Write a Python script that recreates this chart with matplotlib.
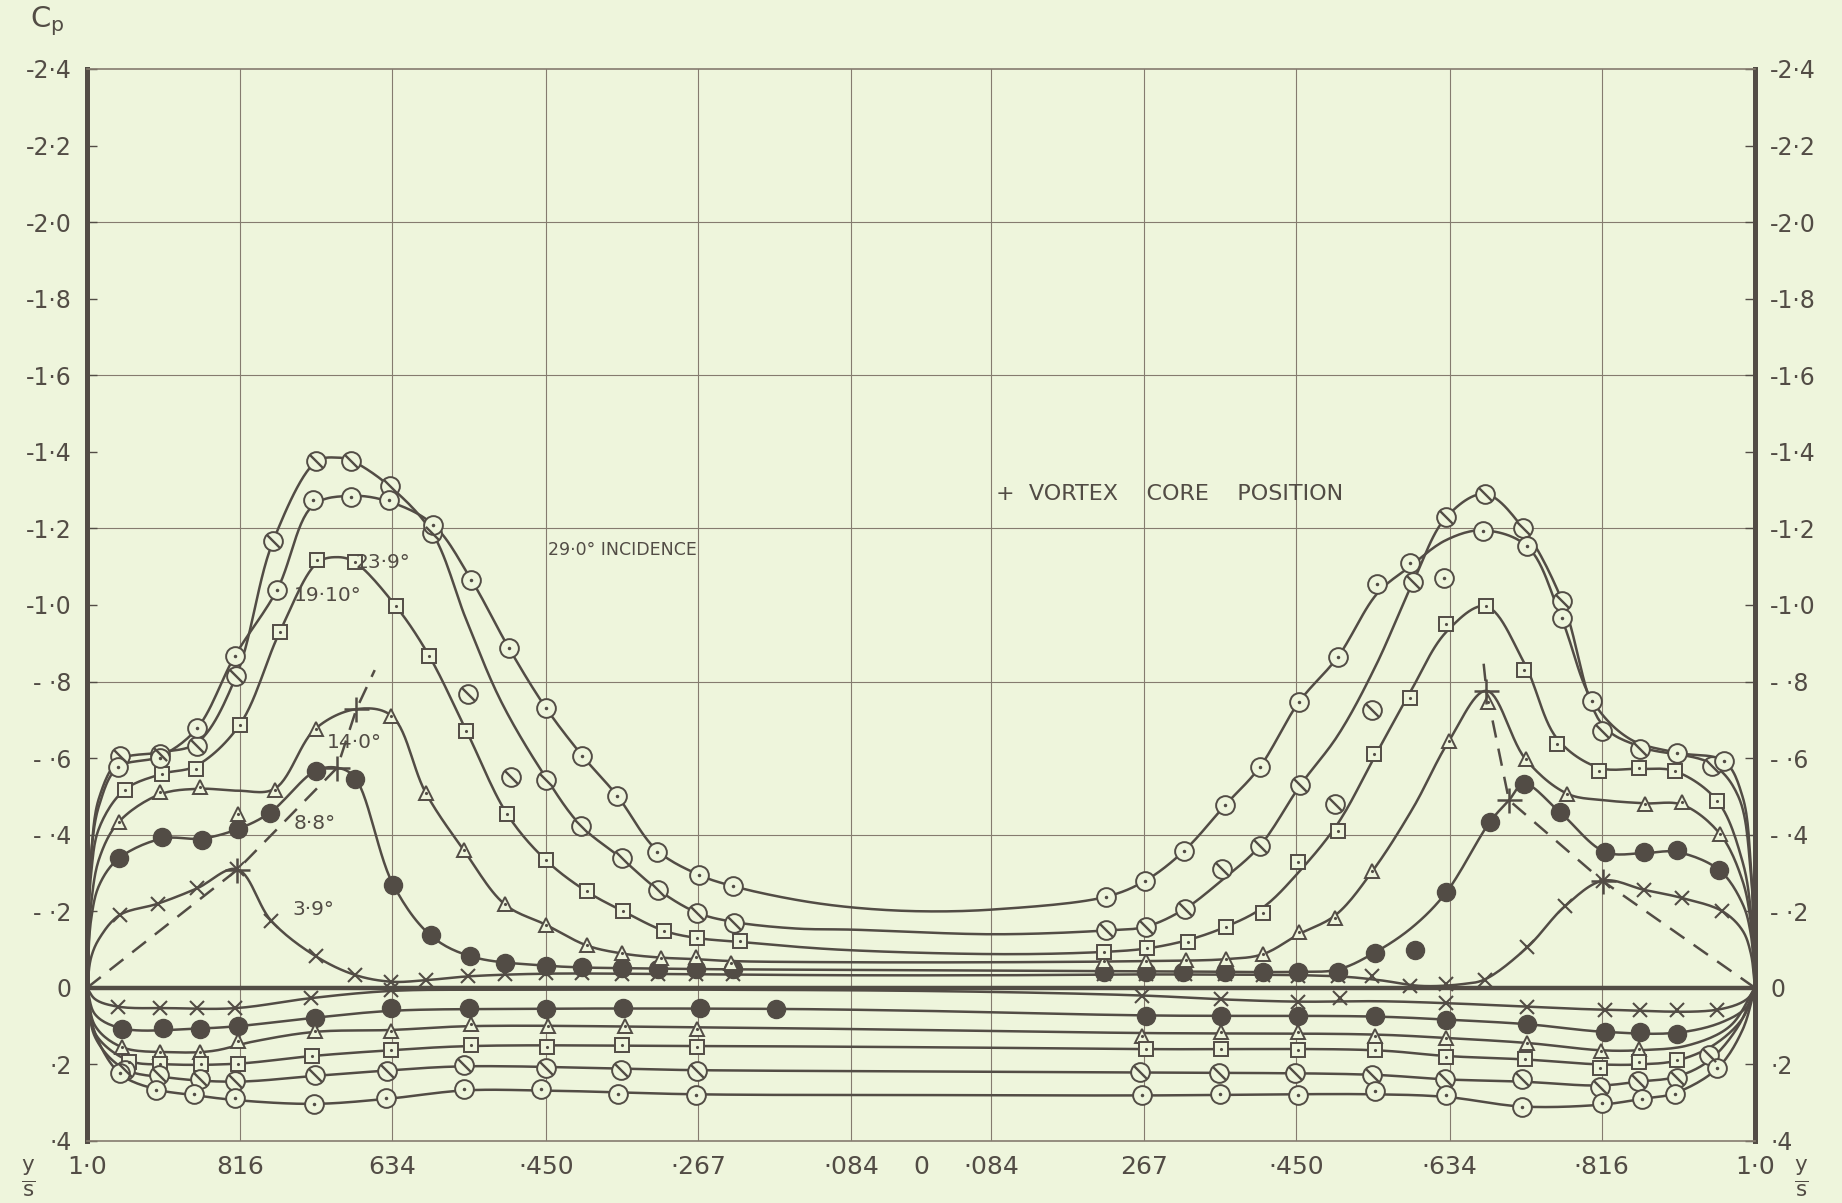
import numpy as np
import matplotlib
matplotlib.use("Agg")
import matplotlib.pyplot as plt
from matplotlib.path import Path

# ---- data (y/s: left half negative, Cp) ----
# upper surface, markers
up39_mx = [-0.961, -0.915, -0.868, -0.820, -0.779, -0.726, -0.679, -0.635, -0.594, -0.543, -0.499, -0.450, -0.406, -0.359, -0.315, -0.270, -0.226,
           0.220, 0.270, 0.316, 0.364, 0.410, 0.452, 0.500, 0.541, 0.586, 0.630, 0.676, 0.727, 0.772, 0.818, 0.867, 0.912, 0.961]
up39_mcp = [-0.19, -0.22, -0.26, -0.31, -0.175, -0.083, -0.034, -0.016, -0.020, -0.030, -0.035, -0.038, -0.038, -0.036, -0.036, -0.035, -0.035,
            -0.035, -0.035, -0.035, -0.035, -0.033, -0.030, -0.030, -0.030, -0.005, -0.010, -0.020, -0.106, -0.213, -0.280, -0.256, -0.235, -0.200]
up39_lx = [-1.0, -0.995, -0.985, -0.961, -0.915, -0.868, -0.820, -0.779, -0.726, -0.679, -0.635, -0.594, -0.543, -0.45, -0.3, -0.1,
           0.1, 0.3, 0.5, 0.55, 0.6, 0.65, 0.676, 0.727, 0.772, 0.818, 0.867, 0.912, 0.961, 0.985, 0.995, 1.0]
up39_lcp = [0.0, -0.08, -0.13, -0.19, -0.22, -0.26, -0.31, -0.175, -0.083, -0.034, -0.016, -0.020, -0.030, -0.037, -0.036, -0.033,
            -0.033, -0.035, -0.030, -0.020, -0.005, -0.010, -0.022, -0.106, -0.213, -0.280, -0.256, -0.235, -0.200, -0.15, -0.09, 0.0]

up88_mx = [-0.962, -0.910, -0.862, -0.819, -0.781, -0.726, -0.679, -0.633, -0.588, -0.541, -0.499, -0.450, -0.406, -0.359, -0.315, -0.270, -0.226,
           0.220, 0.270, 0.314, 0.364, 0.410, 0.452, 0.500, 0.544, 0.592, 0.630, 0.682, 0.723, 0.766, 0.820, 0.867, 0.906, 0.957]
up88_mcp = [-0.338, -0.394, -0.387, -0.415, -0.457, -0.567, -0.546, -0.269, -0.137, -0.083, -0.065, -0.058, -0.055, -0.052, -0.050, -0.050, -0.050,
            -0.042, -0.042, -0.042, -0.042, -0.042, -0.042, -0.042, -0.092, -0.100, -0.250, -0.433, -0.533, -0.459, -0.355, -0.355, -0.360, -0.308]
up88_lx = [-1.0, -0.995, -0.985, -0.962, -0.910, -0.862, -0.819, -0.781, -0.726, -0.700, -0.679, -0.633, -0.588, -0.541, -0.45, -0.3, -0.1,
           0.1, 0.3, 0.45, 0.50, 0.544, 0.59, 0.630, 0.682, 0.705, 0.723, 0.766, 0.820, 0.867, 0.906, 0.957, 0.985, 0.995, 1.0]
up88_lcp = [0.0, -0.18, -0.27, -0.338, -0.390, -0.390, -0.415, -0.457, -0.567, -0.575, -0.550, -0.270, -0.137, -0.083, -0.058, -0.050, -0.047,
            -0.045, -0.043, -0.042, -0.048, -0.092, -0.160, -0.250, -0.433, -0.490, -0.533, -0.459, -0.355, -0.352, -0.355, -0.308, -0.22, -0.14, 0.0]

up140_mx = [-0.962, -0.913, -0.865, -0.819, -0.775, -0.726, -0.635, -0.594, -0.548, -0.499, -0.450, -0.401, -0.359, -0.312, -0.270, -0.228,
            0.220, 0.270, 0.318, 0.366, 0.410, 0.453, 0.497, 0.541, 0.633, 0.680, 0.725, 0.775, 0.868, 0.913, 0.958]
up140_mcp = [-0.433, -0.511, -0.524, -0.455, -0.517, -0.677, -0.711, -0.510, -0.359, -0.218, -0.165, -0.111, -0.090, -0.079, -0.080, -0.066,
             -0.070, -0.070, -0.072, -0.075, -0.088, -0.146, -0.183, -0.304, -0.645, -0.746, -0.597, -0.507, -0.480, -0.485, -0.402]
up140_lx = [-1.0, -0.995, -0.985, -0.962, -0.913, -0.865, -0.819, -0.775, -0.726, -0.677, -0.635, -0.594, -0.548, -0.499, -0.450, -0.401, -0.359,
            -0.312, -0.270, -0.228, -0.1, 0.1, 0.270, 0.366, 0.410, 0.453, 0.497, 0.541, 0.590, 0.633, 0.678, 0.725, 0.775, 0.820, 0.868, 0.913,
            0.958, 0.985, 0.995, 1.0]
up140_lcp = [0.0, -0.22, -0.34, -0.433, -0.505, -0.520, -0.515, -0.520, -0.677, -0.728, -0.711, -0.510, -0.359, -0.218, -0.165, -0.111, -0.090,
             -0.079, -0.075, -0.070, -0.067, -0.067, -0.070, -0.075, -0.088, -0.140, -0.190, -0.304, -0.470, -0.645, -0.776, -0.597, -0.507, -0.490,
             -0.482, -0.478, -0.402, -0.28, -0.17, 0.0]

up191_mx = [-0.955, -0.910, -0.869, -0.817, -0.769, -0.724, -0.679, -0.630, -0.590, -0.545, -0.496, -0.450, -0.401, -0.357, -0.308, -0.268, -0.217,
            0.220, 0.271, 0.320, 0.366, 0.410, 0.452, 0.500, 0.543, 0.586, 0.630, 0.677, 0.723, 0.763, 0.813, 0.861, 0.904, 0.955]
up191_mcp = [-0.517, -0.559, -0.572, -0.687, -0.929, -1.117, -1.112, -0.998, -0.868, -0.671, -0.453, -0.334, -0.252, -0.200, -0.149, -0.130, -0.122,
             -0.094, -0.103, -0.120, -0.160, -0.195, -0.330, -0.411, -0.610, -0.758, -0.950, -0.997, -0.830, -0.636, -0.566, -0.575, -0.566, -0.488]
up191_lx = [-1.0, -0.995, -0.985, -0.955, -0.910, -0.869, -0.817, -0.769, -0.724, -0.700, -0.679, -0.630, -0.590, -0.545, -0.496, -0.450, -0.401,
            -0.357, -0.308, -0.268, -0.217, -0.1, 0.1, 0.220, 0.271, 0.320, 0.366, 0.410, 0.452, 0.500, 0.543, 0.586, 0.630, 0.677, 0.723, 0.763,
            0.813, 0.861, 0.904, 0.955, 0.985, 0.995, 1.0]
up191_lcp = [0.0, -0.30, -0.42, -0.517, -0.559, -0.580, -0.687, -0.929, -1.110, -1.125, -1.112, -0.998, -0.868, -0.671, -0.453, -0.334, -0.252,
             -0.200, -0.149, -0.130, -0.120, -0.100, -0.088, -0.094, -0.103, -0.125, -0.160, -0.210, -0.300, -0.430, -0.600, -0.770, -0.930, -0.997,
             -0.850, -0.650, -0.575, -0.572, -0.566, -0.488, -0.33, -0.20, 0.0]

up239_mx = [-0.961, -0.912, -0.868, -0.821, -0.777, -0.725, -0.683, -0.637, -0.586, -0.543, -0.492, -0.450, -0.408, -0.359, -0.315, -0.268, -0.224,
            0.222, 0.270, 0.316, 0.361, 0.406, 0.455, 0.496, 0.541, 0.590, 0.630, 0.676, 0.722, 0.769, 0.816, 0.862, 0.948]
up239_mcp = [-0.606, -0.610, -0.632, -0.815, -1.166, -1.375, -1.377, -1.310, -1.188, -0.767, -0.550, -0.542, -0.424, -0.338, -0.256, -0.196, -0.170,
             -0.150, -0.160, -0.206, -0.310, -0.370, -0.530, -0.480, -0.727, -1.060, -1.230, -1.290, -1.200, -1.010, -0.670, -0.625, -0.580]
up239_lx = [-1.0, -0.995, -0.985, -0.961, -0.912, -0.868, -0.821, -0.777, -0.725, -0.700, -0.683, -0.637, -0.586, -0.545, -0.503, -0.450, -0.408,
            -0.359, -0.315, -0.268, -0.224, -0.15, -0.082, 0.09, 0.222, 0.270, 0.316, 0.360, 0.406, 0.455, 0.500, 0.545, 0.590, 0.630, 0.676,
            0.722, 0.769, 0.816, 0.862, 0.948, 0.980, 0.995, 1.0]
up239_lcp = [0.0, -0.35, -0.50, -0.595, -0.615, -0.640, -0.815, -1.166, -1.375, -1.385, -1.377, -1.310, -1.188, -0.960, -0.746, -0.550, -0.424,
             -0.338, -0.256, -0.196, -0.172, -0.155, -0.152, -0.140, -0.150, -0.160, -0.206, -0.280, -0.370, -0.530, -0.660, -0.840, -1.060, -1.230, -1.290,
             -1.200, -1.010, -0.690, -0.630, -0.585, -0.50, -0.30, 0.0]

up290_mx = [-0.963, -0.912, -0.868, -0.823, -0.772, -0.729, -0.683, -0.638, -0.585, -0.539, -0.494, -0.450, -0.406, -0.364, -0.317, -0.266, -0.226,
            0.222, 0.269, 0.315, 0.365, 0.406, 0.453, 0.500, 0.547, 0.586, 0.627, 0.674, 0.727, 0.768, 0.805, 0.907, 0.963]
up290_mcp = [-0.576, -0.600, -0.678, -0.866, -1.040, -1.275, -1.283, -1.275, -1.210, -1.065, -0.887, -0.732, -0.606, -0.501, -0.355, -0.295, -0.266,
             -0.238, -0.280, -0.357, -0.478, -0.576, -0.746, -0.865, -1.055, -1.110, -1.070, -1.193, -1.153, -0.965, -0.750, -0.614, -0.592]
up290_lx = [-1.0, -0.995, -0.985, -0.963, -0.912, -0.868, -0.823, -0.772, -0.729, -0.683, -0.638, -0.585, -0.539, -0.494, -0.450, -0.406, -0.364,
            -0.317, -0.266, -0.226, -0.15, -0.082, 0.0, 0.089, 0.222, 0.269, 0.315, 0.365, 0.406, 0.453, 0.500, 0.547, 0.586, 0.630, 0.674, 0.727,
            0.768, 0.805, 0.850, 0.907, 0.963, 0.985, 0.995, 1.0]
up290_lcp = [0.0, -0.35, -0.48, -0.576, -0.605, -0.678, -0.866, -1.040, -1.260, -1.285, -1.270, -1.210, -1.065, -0.887, -0.732, -0.606, -0.501,
             -0.360, -0.295, -0.266, -0.230, -0.210, -0.200, -0.205, -0.238, -0.280, -0.357, -0.478, -0.576, -0.746, -0.865, -1.030, -1.100, -1.170, -1.195,
             -1.153, -0.965, -0.750, -0.650, -0.614, -0.592, -0.50, -0.32, 0.0]

# lower surface, markers
lo39_mx = [-0.963, -0.912, -0.868, -0.822, -0.732, -0.635, 0.265, 0.360, 0.452, 0.502, 0.630, 0.727, 0.820, 0.862, 0.907, 0.955]
lo39_mcp = [0.049, 0.053, 0.053, 0.053, 0.027, 0.005, 0.020, 0.030, 0.036, 0.027, 0.040, 0.049, 0.057, 0.057, 0.057, 0.057]
lo39_lx = [-1.0, -0.990, -0.963, -0.900, -0.822, -0.732, -0.635, -0.5, 0.0, 0.265, 0.360, 0.452, 0.550, 0.630, 0.727, 0.820, 0.955, 0.990, 1.0]
lo39_lcp = [0.0, 0.030, 0.049, 0.053, 0.053, 0.027, 0.008, 0.005, 0.008, 0.020, 0.030, 0.036, 0.035, 0.040, 0.049, 0.057, 0.057, 0.030, 0.0]

lo88_mx = [-0.958, -0.909, -0.865, -0.819, -0.727, -0.635, -0.542, -0.450, -0.357, -0.265, -0.174,
           0.270, 0.360, 0.452, 0.544, 0.630, 0.727, 0.820, 0.862, 0.907]
lo88_mcp = [0.108, 0.104, 0.108, 0.099, 0.078, 0.053, 0.053, 0.056, 0.053, 0.053, 0.055,
            0.074, 0.074, 0.074, 0.074, 0.083, 0.095, 0.116, 0.116, 0.120]
lo88_lx = [-1.0, -0.990, -0.958, -0.865, -0.819, -0.727, -0.635, -0.5, -0.174, 0.0, 0.270, 0.544, 0.630, 0.727, 0.820, 0.907, 0.960, 0.990, 1.0]
lo88_lcp = [0.0, 0.070, 0.106, 0.106, 0.100, 0.078, 0.060, 0.055, 0.055, 0.060, 0.072, 0.075, 0.083, 0.095, 0.115, 0.117, 0.090, 0.050, 0.0]

lo140_mx = [-0.958, -0.912, -0.865, -0.819, -0.727, -0.635, -0.540, -0.447, -0.355, -0.268,
            0.265, 0.360, 0.452, 0.544, 0.630, 0.727, 0.815, 0.861]
lo140_mcp = [0.155, 0.168, 0.168, 0.139, 0.113, 0.113, 0.094, 0.099, 0.100, 0.107,
             0.125, 0.116, 0.116, 0.125, 0.131, 0.144, 0.165, 0.159]
lo140_lx = [-1.0, -0.990, -0.958, -0.900, -0.850, -0.800, -0.727, -0.635, -0.540, -0.268, 0.0, 0.265, 0.544, 0.630, 0.727, 0.815, 0.861,
            0.920, 0.970, 1.0]
lo140_lcp = [0.0, 0.100, 0.155, 0.168, 0.165, 0.140, 0.115, 0.110, 0.100, 0.103, 0.110, 0.118, 0.122, 0.131, 0.144, 0.163, 0.163,
             0.150, 0.100, 0.0]

lo191_mx = [-0.950, -0.912, -0.863, -0.819, -0.730, -0.636, -0.540, -0.449, -0.359, -0.268,
            0.270, 0.360, 0.452, 0.544, 0.630, 0.724, 0.814, 0.861, 0.906]
lo191_mcp = [0.193, 0.198, 0.198, 0.198, 0.178, 0.163, 0.150, 0.154, 0.150, 0.154,
             0.160, 0.160, 0.163, 0.163, 0.180, 0.187, 0.210, 0.193, 0.188]
lo191_lx = [-1.0, -0.990, -0.950, -0.900, -0.820, -0.730, -0.636, -0.540, -0.268, 0.0, 0.270, 0.544, 0.630, 0.724, 0.814, 0.861, 0.906,
            0.950, 0.985, 1.0]
lo191_lcp = [0.0, 0.120, 0.190, 0.200, 0.198, 0.178, 0.163, 0.152, 0.152, 0.155, 0.160, 0.163, 0.178, 0.187, 0.200, 0.200, 0.190,
             0.150, 0.080, 0.0]

lo239_mx = [-0.955, -0.914, -0.865, -0.822, -0.727, -0.640, -0.548, -0.450, -0.360, -0.268,
            0.263, 0.357, 0.449, 0.541, 0.628, 0.721, 0.814, 0.860, 0.906, 0.945]
lo239_mcp = [0.214, 0.227, 0.239, 0.244, 0.227, 0.218, 0.201, 0.210, 0.214, 0.218,
             0.221, 0.222, 0.222, 0.227, 0.239, 0.239, 0.260, 0.244, 0.235, 0.176]
lo239_lx = [-1.0, -0.990, -0.955, -0.900, -0.822, -0.727, -0.640, -0.548, -0.268, 0.0, 0.263, 0.541, 0.628, 0.721, 0.814, 0.860, 0.906,
            0.945, 0.980, 1.0]
lo239_lcp = [0.0, 0.130, 0.212, 0.235, 0.245, 0.230, 0.216, 0.205, 0.215, 0.218, 0.221, 0.227, 0.239, 0.245, 0.255, 0.245, 0.232,
             0.190, 0.100, 0.0]

lo290_mx = [-0.960, -0.917, -0.872, -0.822, -0.728, -0.641, -0.548, -0.456, -0.363, -0.270,
            0.265, 0.358, 0.452, 0.544, 0.630, 0.721, 0.816, 0.864, 0.904, 0.955]
lo290_mcp = [0.222, 0.266, 0.276, 0.288, 0.303, 0.288, 0.265, 0.265, 0.277, 0.281,
             0.281, 0.277, 0.281, 0.270, 0.281, 0.311, 0.300, 0.290, 0.277, 0.210]
lo290_lx = [-1.0, -0.990, -0.960, -0.917, -0.872, -0.822, -0.728, -0.641, -0.548, -0.456, -0.270, 0.0, 0.265, 0.544, 0.630, 0.721, 0.816,
            0.864, 0.904, 0.955, 0.985, 1.0]
lo290_lcp = [0.0, 0.120, 0.225, 0.265, 0.280, 0.293, 0.303, 0.290, 0.268, 0.268, 0.278, 0.280, 0.281, 0.278, 0.285, 0.310, 0.305,
             0.290, 0.275, 0.210, 0.110, 0.0]

# vortex core locus
core_lx = [-1.0, -0.820, -0.700, -0.677, -0.655]
core_lcp = [0.0, -0.308, -0.575, -0.728, -0.830]
core_rx = [1.0, 0.818, 0.705, 0.678, 0.674]
core_rcp = [0.0, -0.278, -0.490, -0.776, -0.860]

x_ticks = [-1.0, -0.816, -0.634, -0.450, -0.267, -0.084, 0.0, 0.084, 0.267, 0.450, 0.634, 0.816, 1.0]
x_labels = ["1·0", "816", "634", "·450", "·267", "·084", "0", "·084", "267", "·450", "·634", "·816", "1·0"]
y_ticks = [-2.4, -2.2, -2.0, -1.8, -1.6, -1.4, -1.2, -1.0, -0.8, -0.6, -0.4, -0.2, 0.0, 0.2, 0.4]
y_labels = ["-2·4", "-2·2", "-2·0", "-1·8", "-1·6", "-1·4", "-1·2", "-1·0", "- ·8", "- ·6", "- ·4", "- ·2", "0", "·2", "·4"]
x_grid = [-0.816, -0.634, -0.450, -0.267, -0.084, 0.084, 0.267, 0.450, 0.634, 0.816]
y_grid = [-2.0, -1.6, -1.2, -0.8, -0.4]

BG = "#eef5dc"
INK = "#524c45"
GRID = "#857b6f"


def smooth(xs, ys, n=14):
    # centripetal catmull-rom in roughly pixel-scaled space
    sx, sy = 834.0, 383.0
    p = np.column_stack([np.asarray(xs) * sx, np.asarray(ys) * sy])
    p = np.vstack([2 * p[0] - p[1], p, 2 * p[-1] - p[-2]])
    out = []
    for i in range(1, len(p) - 2):
        p0, p1, p2, p3 = p[i - 1], p[i], p[i + 1], p[i + 2]
        t0 = 0.0
        t1 = t0 + max(np.linalg.norm(p1 - p0), 1e-6) ** 0.5
        t2 = t1 + max(np.linalg.norm(p2 - p1), 1e-6) ** 0.5
        t3 = t2 + max(np.linalg.norm(p3 - p2), 1e-6) ** 0.5
        t = np.linspace(t1, t2, n, endpoint=False)[:, None]
        a1 = (t1 - t) / (t1 - t0) * p0 + (t - t0) / (t1 - t0) * p1
        a2 = (t2 - t) / (t2 - t1) * p1 + (t - t1) / (t2 - t1) * p2
        a3 = (t3 - t) / (t3 - t2) * p2 + (t - t2) / (t3 - t2) * p3
        b1 = (t2 - t) / (t2 - t0) * a1 + (t - t0) / (t2 - t0) * a2
        b2 = (t3 - t) / (t3 - t1) * a2 + (t - t1) / (t3 - t1) * a3
        out.append((t2 - t) / (t2 - t1) * b1 + (t - t1) / (t2 - t1) * b2)
    out.append(p[-2:-1])
    c = np.vstack(out)
    return c[:, 0] / sx, c[:, 1] / sy


slash = Path([(-0.7, 0.7), (0.7, -0.7)], [Path.MOVETO, Path.LINETO])


def draw_marks(ax, x, y, kind):
    if kind == "x":
        ax.plot(x, y, ls="none", marker="x", ms=10, mew=1.5, color=INK, zorder=5)
    elif kind == "dot":
        ax.plot(x, y, ls="none", marker="o", ms=13, mfc=INK, mec=INK, zorder=5)
    elif kind == "tri":
        ax.plot(x, y, ls="none", marker="^", ms=10.5, mfc=BG, mec=INK, mew=1.4, zorder=5)
        ax.plot(x, y, ls="none", marker=".", ms=2.5, color=INK, zorder=6)
    elif kind == "sq":
        ax.plot(x, y, ls="none", marker="s", ms=10, mfc=BG, mec=INK, mew=1.4, zorder=5)
        ax.plot(x, y, ls="none", marker=".", ms=2.5, color=INK, zorder=6)
    elif kind == "slash":
        ax.plot(x, y, ls="none", marker="o", ms=13.5, mfc=BG, mec=INK, mew=1.4, zorder=5)
        ax.plot(x, y, ls="none", marker=slash, ms=9.5, mew=1.7, color=INK, zorder=6)
    elif kind == "ring":
        ax.plot(x, y, ls="none", marker="o", ms=13.5, mfc=BG, mec=INK, mew=1.4, zorder=5)
        ax.plot(x, y, ls="none", marker=".", ms=3, color=INK, zorder=6)


series = [
    (up39_lx, up39_lcp, up39_mx, up39_mcp, "x"),
    (up88_lx, up88_lcp, up88_mx, up88_mcp, "dot"),
    (up140_lx, up140_lcp, up140_mx, up140_mcp, "tri"),
    (up191_lx, up191_lcp, up191_mx, up191_mcp, "sq"),
    (up239_lx, up239_lcp, up239_mx, up239_mcp, "slash"),
    (up290_lx, up290_lcp, up290_mx, up290_mcp, "ring"),
    (lo39_lx, lo39_lcp, lo39_mx, lo39_mcp, "x"),
    (lo88_lx, lo88_lcp, lo88_mx, lo88_mcp, "dot"),
    (lo140_lx, lo140_lcp, lo140_mx, lo140_mcp, "tri"),
    (lo191_lx, lo191_lcp, lo191_mx, lo191_mcp, "sq"),
    (lo239_lx, lo239_lcp, lo239_mx, lo239_mcp, "slash"),
    (lo290_lx, lo290_lcp, lo290_mx, lo290_mcp, "ring"),
]

fig = plt.figure(figsize=(18.42, 12.03), dpi=100, facecolor=BG)
ax = fig.add_axes([87 / 1842, 1 - 1141 / 1203, (1755 - 87) / 1842, (1141 - 69) / 1203])
ax.set_facecolor(BG)
ax.set_xlim(-1.0, 1.0)
ax.set_ylim(0.4, -2.4)

for g in x_grid:
    ax.axvline(g, color=GRID, lw=0.8, zorder=1)
for g in y_grid:
    ax.axhline(g, color=GRID, lw=0.8, zorder=1)
ax.axhline(0.0, color=INK, lw=3.2, zorder=2)

for lx, lcp, mx, mcp, kind in series:
    sx, sy = smooth(lx, lcp)
    ax.plot(sx, sy, color=INK, lw=1.8, zorder=3, solid_capstyle="round")
    draw_marks(ax, mx, mcp, kind)

ax.plot(core_lx, core_lcp, color=INK, lw=1.8, ls=(0, (7, 4.5)), zorder=3)
ax.plot(core_rx, core_rcp, color=INK, lw=1.8, ls=(0, (7, 4.5)), zorder=3)
ax.plot(core_lx[1:4] + core_rx[1:4], core_lcp[1:4] + core_rcp[1:4], ls="none", marker="+",
        ms=18, mew=1.8, color=INK, zorder=7)

# annotations
tkw = dict(color=INK, fontsize=14.5, va="center", ha="left", zorder=8)
ax.text(-0.447, -1.143, "29·0° INCIDENCE", color=INK, fontsize=12.5, va="center", ha="left", zorder=8)
ax.text(-0.678, -1.110, "23·9°", **tkw)
ax.text(-0.752, -1.026, "19·10°", **tkw)
ax.text(-0.713, -0.640, "14·0°", **tkw)
ax.text(-0.752, -0.430, "8·8°", **tkw)
ax.text(-0.754, -0.205, "3·9°", **tkw)
ax.text(0.298, -1.291, "+  VORTEX    CORE    POSITION", color=INK, fontsize=16, va="center", ha="center", zorder=8)

# axes styling
for side in ("left", "right"):
    ax.spines[side].set_linewidth(3.6)
    ax.spines[side].set_color(INK)
for side in ("top", "bottom"):
    ax.spines[side].set_linewidth(1.2)
    ax.spines[side].set_color(GRID)

ax.set_yticks(y_ticks)
ax.set_yticklabels(y_labels)
ax.tick_params(axis="y", which="major", direction="in", length=7, width=1.0, color=INK,
               labelsize=17, labelcolor=INK, left=True, right=True, labelleft=True, labelright=True, pad=11)
ax.set_xticks(x_ticks)
ax.set_xticklabels(x_labels)
ax.set_xticks([0.0], minor=True)
ax.tick_params(axis="x", which="major", length=0, labelsize=18, labelcolor=INK, pad=10)
ax.tick_params(axis="x", which="minor", direction="in", length=11, width=1.2, color=INK)

fig.text(40 * 1.175 / 1842, 1 - 18 * 1.175 / 1203, r"$\mathregular{C_p}$", color=INK, fontsize=21, ha="center", va="center")
fig.text(24 * 1.175 / 1842, 1 - 1003 * 1.175 / 1203, r"$\mathregular{\frac{y}{s}}$", color=INK, fontsize=22, ha="center", va="center")
fig.text(1533 * 1.175 / 1842, 1 - 1003 * 1.175 / 1203, r"$\mathregular{\frac{y}{s}}$", color=INK, fontsize=22, ha="center", va="center")

fig.savefig("out.png", dpi=100, facecolor=BG)
